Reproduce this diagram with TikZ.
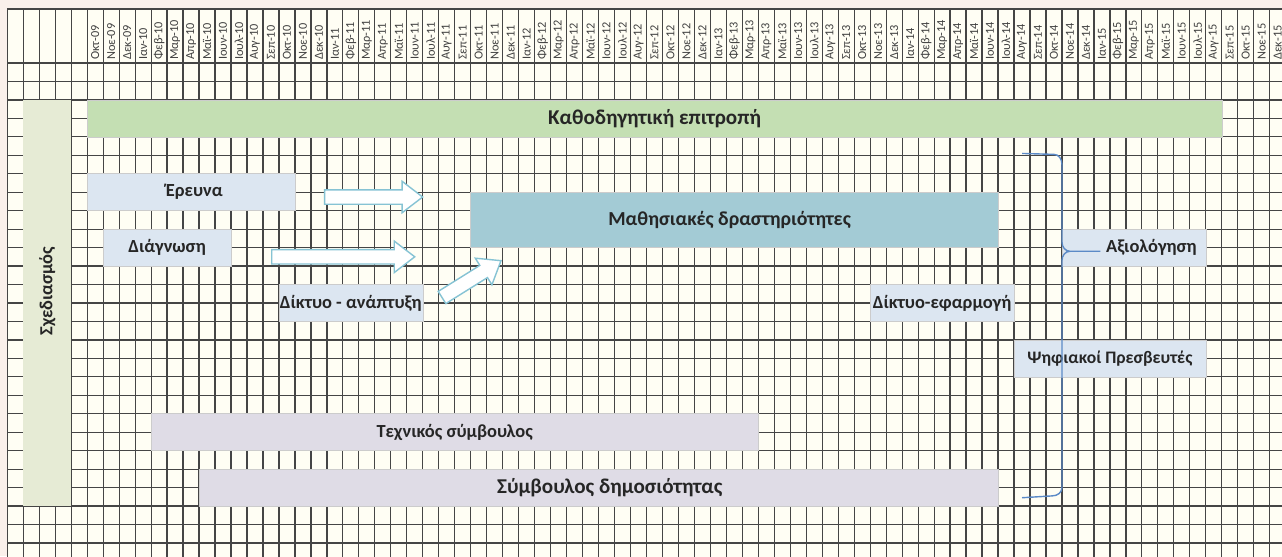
\documentclass[tikz,border=0pt]{standalone}
\usepackage{fontspec}
\setmainfont{Carlito}
\usetikzlibrary{fit,shapes.arrows}
\definecolor{gridFill}{HTML}{FFFEF4}
\definecolor{gridLine}{HTML}{454545}
\definecolor{marginFill}{HTML}{FAF0EB}
\definecolor{steerGreen}{HTML}{C4DFB3}
\definecolor{planGreen}{HTML}{E6EBD5}
\definecolor{infoBlue}{HTML}{DCE6F1}
\definecolor{learnTeal}{HTML}{A3CBD5}
\definecolor{advisorGray}{HTML}{DFDCE6}
\definecolor{arrowBlue}{HTML}{86C3D4}
\definecolor{braceBlue}{HTML}{5B8AC7}
% greek month names
\newcommand{\grMonth}[1]{\ifcase#1 Ιαν\or Φεβ\or Μαρ\or Απρ\or Μαϊ\or Ιουν\or Ιουλ\or Αυγ\or Σεπ\or Οκτ\or Νοε\or Δεκ\fi}
\tikzset{
myBar/.style={
	rectangle, inner sep=0pt, draw=black!20, line width=0.3pt
}
, mySteer/.style={myBar, fill=steerGreen}
, myPlan/.style={myBar, fill=planGreen, draw=none}
, myInfo/.style={myBar, fill=infoBlue}
, myLearn/.style={myBar, fill=learnTeal}
, myAdvisor/.style={myBar, fill=advisorGray}
, myText/.style={inner sep=0pt, font=\fontsize{10.5}{12}\selectfont\bfseries, text=black!85}
, myMonth/.style={inner sep=0pt, rotate=90, anchor=west, font=\fontsize{7}{7}\selectfont, text=black!75}
% arrows
, myBlockArrow/.style={
	single arrow, draw=arrowBlue, fill=white, line width=0.8pt,
	inner sep=0.13cm, single arrow head extend=0.17cm,
	single arrow tip angle=75
}
, myBrace/.style={draw=braceBlue, line width=0.8pt}
}

\begin{document}
\begin{tikzpicture}[x=0.3196cm, y=-0.3692cm]
	\useasboundingbox (-0.457,-3.413) rectangle (79.77,26.71);
	\fill[marginFill] (-0.457,-3.413) rectangle (79.77,26.71);
	% grid
	\begin{scope}
		\clip (-0.457,-3.413) rectangle (79.77,26.71);
		\fill[gridFill] (0,-2.925) rectangle (80,27);
		\foreach \j in {0,...,80}
			\draw[gridLine, line width=0.7pt] (\j,-2.925) -- (\j,27);
		\foreach \k in {0,...,27}
			\draw[gridLine, line width=0.7pt] (0,\k) -- (80,\k);
		\draw[gridLine, line width=0.7pt] (0,-2.925) -- (80,-2.925);
	\end{scope}
	% months
	\foreach \n in {0,...,74} {
		\pgfmathtruncatemacro\mi{mod(9+\n,12)}
		\pgfmathtruncatemacro\yr{9+div(9+\n,12)}
		\node[myMonth] (month\n) at (\n+5.5,-0.15) {\grMonth{\mi}-\ifnum\yr<10 0\fi\yr};
	}
	% bars
	\node[mySteer, fit={(5,2) (76,4)}] (Steering) {};
	\node[myPlan, fit={(1,2) (4,24)}] (Plan) {};
	\node[myInfo, fit={(5,6) (18,8)}] (Research) {};
	\node[myInfo, fit={(6,9) (14,11)}] (Diagnosis) {};
	\node[myInfo, fit={(17,12) (26,14)}] (NetDev) {};
	\node[myLearn, fit={(29,7) (62,10)}] (Learning) {};
	\node[myInfo, fit={(54,12) (63,14)}] (NetApp) {};
	\node[myInfo, fit={(66,9) (75,11)}] (Evaluation) {};
	\node[myInfo, fit={(63,15) (75,17)}] (Ambassadors) {};
	\node[myAdvisor, fit={(9,19) (47,21)}] (Technical) {};
	\node[myAdvisor, fit={(12,22) (62,24)}] (Publicity) {};
	% labels
	\node[myText, font=\fontsize{12}{14}\selectfont\bfseries] (SteeringText) at (Steering.center) {Καθοδηγητική επιτροπή};
	\node[myText, rotate=90] (PlanText) at (2.5,12.35) {Σχεδιασμός};
	\node[myText] (ResearchText) at (11.7,7) {Έρευνα};
	\node[myText] (DiagnosisText) at (Diagnosis.center) {Διάγνωση};
	\node[myText] (NetDevText) at (NetDev.center) {Δίκτυο - ανάπτυξη};
	\node[myText, font=\fontsize{11.3}{13}\selectfont\bfseries] (LearningText) at (45.2,8.5) {Μαθησιακές δραστηριότητες};
	\node[myText] (NetAppText) at (NetApp.center) {Δίκτυο-εφαρμογή};
	\node[myText] (EvaluationText) at (71.6,10) {Αξιολόγηση};
	\node[myText, font=\fontsize{10}{12}\selectfont\bfseries] (AmbassadorsText) at (Ambassadors.center) {Ψηφιακοί Πρεσβευτές};
	\node[myText] (TechnicalText) at (Technical.center) {Τεχνικός σύμβουλος};
	\node[myText, font=\fontsize{12}{14}\selectfont\bfseries] (PublicityText) at (37.7,23) {Σύμβουλος δημοσιότητας};
	% block arrows
	\node[myBlockArrow, minimum height=1.96cm] (ArrowA) at (22.63,7.26) {};
	\node[myBlockArrow, minimum height=2.86cm] (ArrowB) at (20.73,10.5) {};
	\node[myBlockArrow, minimum height=1.39cm, rotate=32] (ArrowC) at (28.8,11.84) {};
	% brace
	\coordinate (BraceTip) at (68.4,10.2);
	\draw[myBrace] (63.5,4.9) -- (65.5,4.95) to[out=0,in=90] (66,5.5) -- (66,9.7)
		to[out=-90,in=180] (66.5,10.2) -- (BraceTip)
		(66.5,10.2) to[out=180,in=90] (66,10.7) -- (66,23)
		to[out=-90,in=0] (65.4,23.45) -- (63.5,23.55);
\end{tikzpicture}
\end{document}
